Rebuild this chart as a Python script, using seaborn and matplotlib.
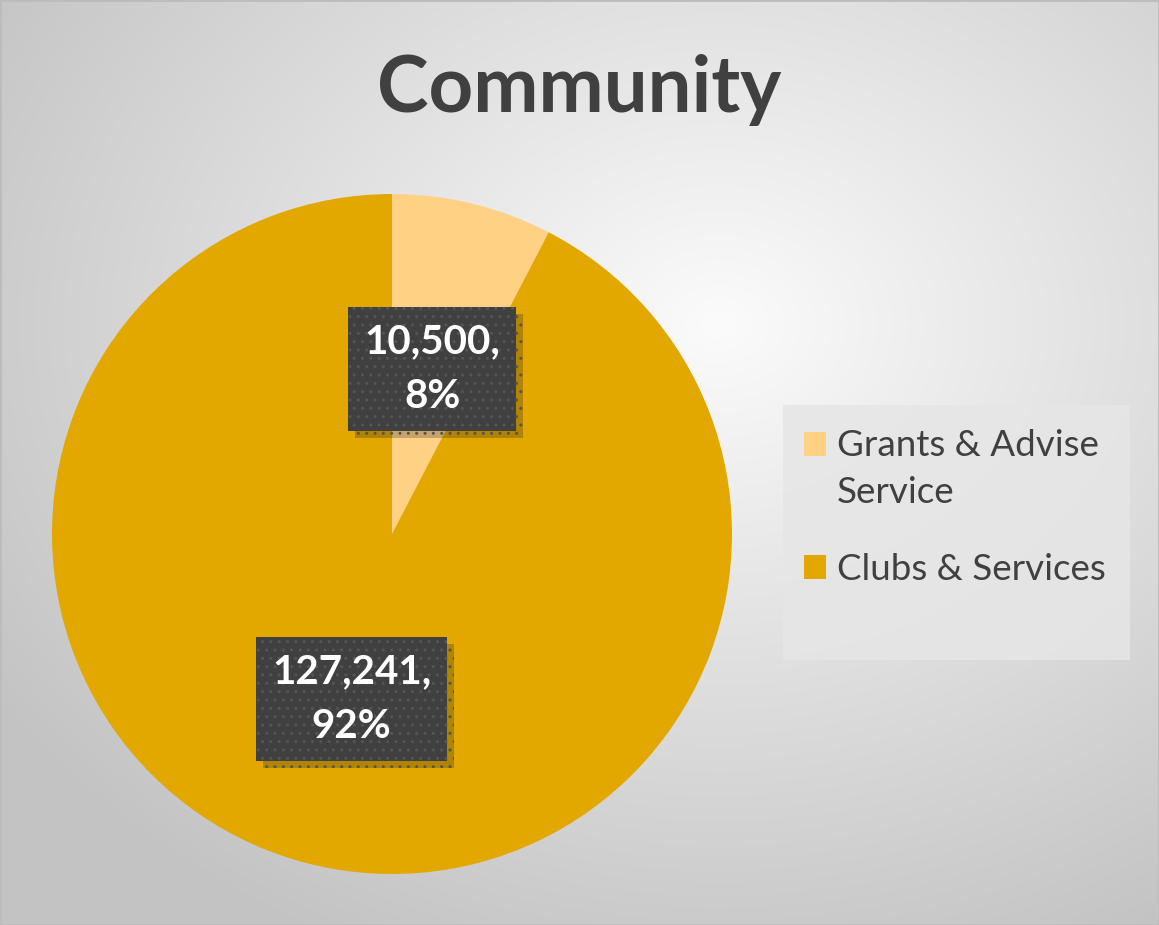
import numpy as np
import matplotlib
matplotlib.use("Agg")
import matplotlib.pyplot as plt
import matplotlib.patheffects as pe
import seaborn as sns
from matplotlib.patches import Rectangle

# ---- data ----
categories = ["Grants & Advise\nService", "Clubs & Services"]
values = [10500, 127241]
colors = ["#FFD185", "#E2A800"]
title = "Community"

sns.set_theme(style="white")
plt.rcParams['font.family'] = ['Lato', 'DejaVu Sans']

W, H = 1159, 925
fig = plt.figure(figsize=(W / 100, H / 100), dpi=100)

# background radial gradient
bg = fig.add_axes([0, 0, 1, 1], zorder=-10)
yy, xx = np.mgrid[0:H, 0:W]
cx, cy = 0.62 * W, 0.35 * H
d = np.sqrt(((xx - cx) / W) ** 2 + ((yy - cy) / H) ** 2)
d = np.clip(d / 0.75, 0, 1)
g = 0.985 - 0.22 * d
bg.imshow(np.dstack([g, g, g]), aspect='auto', extent=[0, 1, 0, 1], origin='upper')
bg.set_axis_off()
fig.patches.append(Rectangle((0, 0), 1, 1, transform=fig.transFigure, fill=False,
                             edgecolor='#bcbcbc', linewidth=2, zorder=5))

# pie axes: center (392, 534), radius 340 px
r = 340
ax = fig.add_axes([(392 - r) / W, 1 - (534 + r) / H, 2 * r / W, 2 * r / H])
total = sum(values)

def fmt(pct):
    v = int(round(pct * total / 100.0))
    return f"{v:,},\n{pct:.0f}%"

wedges, texts, autotexts = ax.pie(
    values, colors=colors, startangle=90, counterclock=False,
    autopct=fmt, pctdistance=0.5, radius=1.0,
    wedgeprops=dict(linewidth=0),
    textprops=dict(color='white', fontsize=29, fontweight='bold', linespacing=1.6))
ax.set_xlim(-1, 1)
ax.set_ylim(-1, 1)
ax.set_aspect('equal')
for t in autotexts:
    t.set_bbox(dict(boxstyle='square,pad=0.4', facecolor='#404040', edgecolor='#555555',
                    linewidth=0, hatch='..'))
    t.get_bbox_patch().set_path_effects([
        pe.SimplePatchShadow(offset=(5, -5), shadow_rgbFace='black', alpha=0.22),
        pe.Normal()])

# title
fig.text(579 / W, 1 - 90 / H, title, ha='center', va='center', fontsize=56,
         fontweight='bold', color='#404040')

# legend box
fig.patches.append(Rectangle((783 / W, 1 - 660 / H), (1130 - 783) / W, (660 - 405) / H,
                             transform=fig.transFigure, facecolor='#e6e6e6',
                             edgecolor='none', alpha=0.85, zorder=1))
ls = 1.5
leg = fig.legend(wedges, categories, loc='upper left',
                 bbox_to_anchor=(771 / W, 1 - 396 / H), frameon=False,
                 fontsize=26.5, labelcolor='#404040', handlelength=0.6, handleheight=0.6,
                 handletextpad=0.3, labelspacing=1.2)
for txt in leg.get_texts():
    txt.set_linespacing(ls)
# align the first marker with the first line of its two-line label
h0 = leg.legend_handles[0]
h0.set_y(h0.get_y() + 0.5 * 0.92 * ls * 26.5)

fig.savefig("out.png", dpi=100)
